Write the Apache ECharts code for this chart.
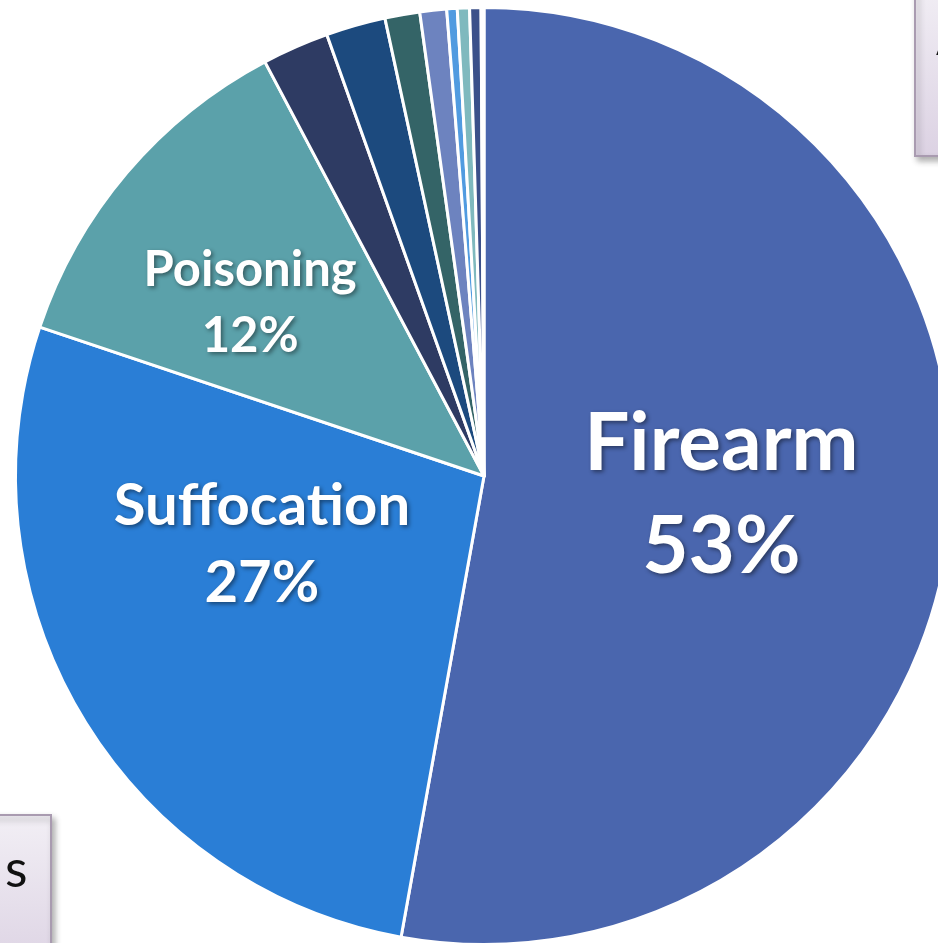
<!DOCTYPE html>
<html><head><meta charset="utf-8">
<script src="https://cdn.jsdelivr.net/npm/echarts@6/dist/echarts.min.js"></script>
<style>html,body{margin:0;padding:0;background:#fff;overflow:hidden}#c{width:938px;height:943px}</style>
</head><body><div id="c"></div>
<script>
// ---- data ----
const categories = ['Firearm','Suffocation','Poisoning','Fall','Cut/Pierce','Drowning','Other Specified','Fire/Flame','Other Transport','Unspecified','Other'];
const shares = [52.8, 27.3, 12.1, 2.3, 2.05, 1.2, 0.92, 0.36, 0.42, 0.39, 0.1];
const labelledCategories = ['Firearm','Suffocation','Poisoning'];
const sideNotes = ['A', 's'];

// ---- styles ----
const sliceColors = ['#4A66AE','#2A7ED6','#5BA1AA','#2E3B63','#1C4A7E','#346467','#6D83BF','#519BE0','#7FB9BE','#3B508A','#2D6EB0'];
const labelFont = {Firearm:[80,103], Suffocation:[58,77], Poisoning:[49,66]};
const labelShift = {Firearm:[1,-1], Suffocation:[-18,-52], Poisoning:[-53,-19]};

const chart = echarts.init(document.getElementById('c'), null, {renderer:'canvas'});

const pieData = categories.map((name, i) => {
  const show = labelledCategories.indexOf(name) >= 0;
  const item = { name: name, value: shares[i], itemStyle: { color: sliceColors[i] } };
  if (show) {
    item.label = { show: true, fontSize: labelFont[name][0], lineHeight: labelFont[name][1] };
  } else {
    item.label = { show: false };
  }
  return item;
});

const boxFill = () => new echarts.graphic.LinearGradient(0, 0, 0, 1, [
  { offset: 0, color: '#F2EFF5' }, { offset: 1, color: '#DCD2E3' }
]);

chart.setOption({
  animation: false,
  backgroundColor: '#ffffff',
  series: [{
    type: 'pie',
    center: [484, 476],
    radius: 468.5,
    startAngle: 90,
    clockwise: true,
    avoidLabelOverlap: false,
    minShowLabelAngle: 0,
    silent: true,
    itemStyle: { borderColor: '#ffffff', borderWidth: 3 },
    label: {
      position: 'inside',
      color: '#ffffff',
      fontFamily: 'Lato',
      fontWeight: 'bold',
      textShadowColor: 'rgba(0,0,0,0.45)',
      textShadowBlur: 4,
      textShadowOffsetX: 2,
      textShadowOffsetY: 2,
      formatter: p => p.name + '\n' + Math.round(p.percent) + '%'
    },
    labelLine: { show: false },
    labelLayout: params => {
      const name = categories[params.dataIndex];
      const s = labelShift[name] || [0, 0];
      return { dx: s[0], dy: s[1] };
    },
    emphasis: { disabled: true },
    data: pieData
  }],
  graphic: [
    { type: 'rect', z: 10, shape: { x: 915, y: -20, width: 60, height: 176 },
      style: { fill: boxFill(), stroke: '#A99BB0', lineWidth: 2, shadowBlur: 6, shadowColor: 'rgba(0,0,0,0.3)', shadowOffsetX: 3, shadowOffsetY: 4 } },
    { type: 'text', z: 11, x: 936, y: 14, style: { text: sideNotes[0], font: '50px Lato', fill: '#111111' } },
    { type: 'rect', z: 10, shape: { x: -20, y: 815, width: 71, height: 160 },
      style: { fill: boxFill(), stroke: '#A99BB0', lineWidth: 2, shadowBlur: 6, shadowColor: 'rgba(0,0,0,0.3)', shadowOffsetX: 3, shadowOffsetY: 4 } },
    { type: 'text', z: 11, x: 5, y: 844, style: { text: sideNotes[1], font: '52px Lato', fill: '#111111' } }
  ]
});
</script>
</body></html>
